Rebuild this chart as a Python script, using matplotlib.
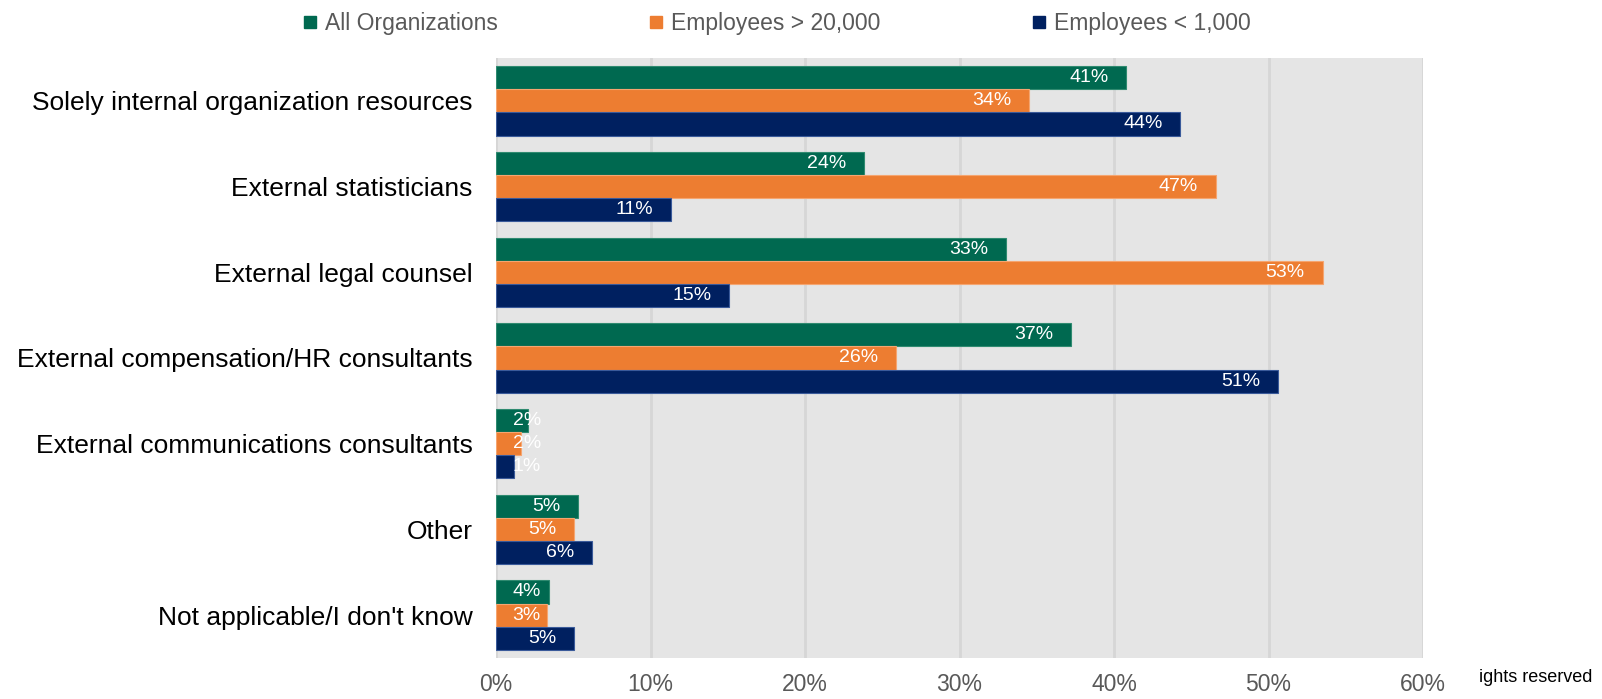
import matplotlib.pyplot as plt
from matplotlib.lines import Line2D
import numpy as np

plt.rcParams['font.family'] = ['Liberation Sans', 'DejaVu Sans']

# datos
categorias = ["Solely internal organization resources", "External statisticians",
              "External legal counsel", "External compensation/HR consultants",
              "External communications consultants", "Other", "Not applicable/I don't know"]
series = ["All Organizations", "Employees > 20,000", "Employees < 1,000"]
todas = [40.8, 23.8, 33.0, 37.2, 2.05, 5.3, 3.4]
mas_20k = [34.5, 46.6, 53.5, 25.9, 1.6, 5.05, 3.3]
menos_1k = [44.3, 11.3, 15.1, 50.6, 1.17, 6.2, 5.05]
etq_todas = ["41%", "24%", "33%", "37%", "2%", "5%", "4%"]
etq_20k = ["34%", "47%", "53%", "26%", "2%", "5%", "3%"]
etq_1k = ["44%", "11%", "15%", "51%", "1%", "6%", "5%"]
xticks = [0, 10, 20, 30, 40, 50, 60]

colores = ["#006950", "#ED7D31", "#002060"]
bordes = ["#2f8a70", "#f5a570", "#3a5a9a"]

fig = plt.figure(figsize=(16.02, 6.99), dpi=100)
ax = fig.add_axes([496/1602, 1 - 658/699, (1423 - 496)/1602, 600/699])
ax.set_facecolor("#E5E5E5")

y = np.arange(len(categorias))
h = 0.27
datos = [todas, mas_20k, menos_1k]
etiquetas = [etq_todas, etq_20k, etq_1k]
for k, (vals, etqs) in enumerate(zip(datos, etiquetas)):
    pos = y + (k - 1) * h
    ax.barh(pos, vals, height=h, color=colores[k], edgecolor=bordes[k], linewidth=0.8, zorder=3)
    for p, v, t in zip(pos, vals, etqs):
        ax.text(max(v - 1.15, 2.9), p, t, ha="right", va="center", color="white",
                fontsize=14, zorder=4)

ax.set_xlim(0, 60)
ax.set_ylim(len(categorias) - 0.5, -0.5)
ax.set_xticks(xticks)
ax.set_xticklabels([f"{t}%" for t in xticks], fontsize=16.5, color="#595959")
ax.set_yticks(y)
ax.set_yticklabels(categorias, fontsize=19, color="black")
ax.tick_params(axis="both", length=0)
ax.tick_params(axis="x", pad=11)
ax.tick_params(axis="y", pad=17)
ax.grid(axis="x", color="#D6D6D6", linewidth=2, zorder=1)
ax.set_axisbelow(True)
for s in ax.spines.values():
    s.set_visible(False)

handles = [Line2D([], [], marker="s", ls="", color=c, markersize=9) for c in colores]
fig.legend(handles, series, loc="center", bbox_to_anchor=(0.485, 0.966), ncol=3,
           frameon=False, fontsize=16.5, labelcolor="#595959", handlelength=0.6,
           handletextpad=0.35, columnspacing=6.6)

fig.text(1479/1602, 1 - 678/699, "ights reserved", ha="left", va="center",
         fontsize=13, color="black")

plt.savefig("out.png", dpi=100)
